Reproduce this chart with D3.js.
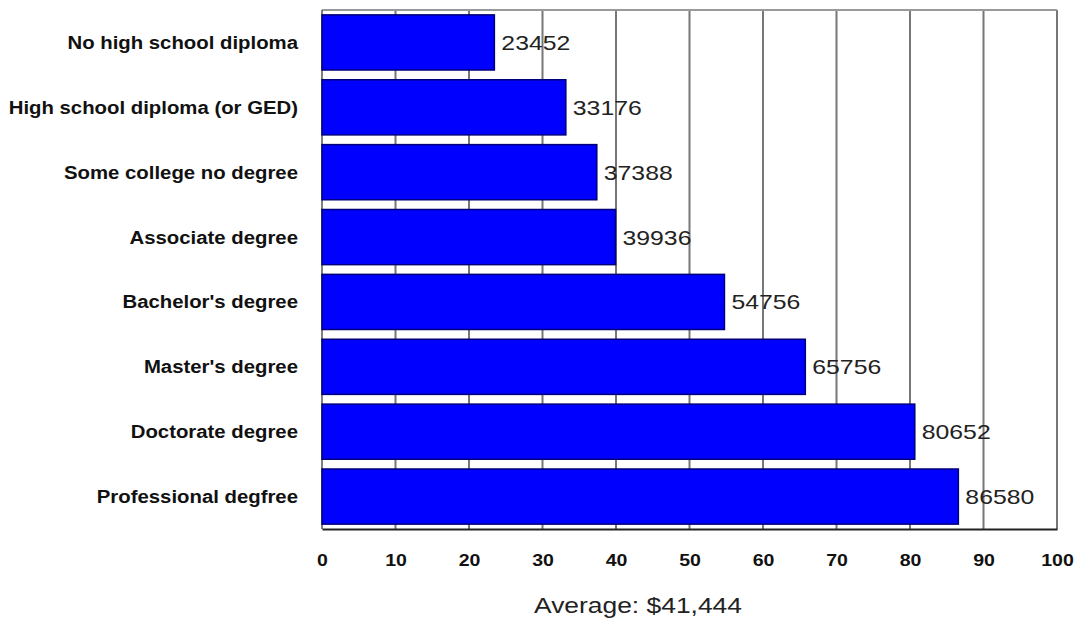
<!DOCTYPE html>
<html><head><meta charset="utf-8">
<script src="https://d3js.org/d3.v7.min.js"></script>
<style>body{margin:0;background:#fff}</style>
</head><body>
<script>
const categories = ["No high school diploma","High school diploma (or GED)","Some college no degree","Associate degree","Bachelor's degree","Master's degree","Doctorate degree","Professional degfree"];
const values = [23452,33176,37388,39936,54756,65756,80652,86580];
const xTicks = [0,10,20,30,40,50,60,70,80,90,100];
const title = "Average: $41,444";

const W=1080,H=621;
const m={l:322,r:23,t:10,b:92};
const FONT="Liberation Sans, Arial, sans-serif";
const svg=d3.select("body").append("svg").attr("width",W).attr("height",H);
const x=d3.scaleLinear().domain([0,100]).range([m.l,W-m.r]);
const y=d3.scaleBand().domain(categories).range([m.t,H-m.b]).paddingInner(0.15).paddingOuter(0.075);

function stretch(sel,k){
  sel.each(function(){
    const L=this.getComputedTextLength();
    d3.select(this).attr("textLength",L*k).attr("lengthAdjust","spacingAndGlyphs");
  });
}

// grid
svg.append("g").selectAll("line").data(xTicks.slice(1)).join("line")
 .attr("x1",d=>x(d)).attr("x2",d=>x(d)).attr("y1",m.t).attr("y2",H-m.b)
 .attr("stroke","#777").attr("stroke-width",2);
// frame
svg.append("line").attr("x1",m.l).attr("x2",W-m.r).attr("y1",m.t).attr("y2",m.t).attr("stroke","#999").attr("stroke-width",2);
svg.append("line").attr("x1",m.l).attr("x2",m.l).attr("y1",m.t).attr("y2",H-m.b).attr("stroke","#555").attr("stroke-width",1.5);

// bars
svg.append("g").selectAll("rect").data(values).join("rect")
 .attr("x",x(0)).attr("y",(d,i)=>y(categories[i]))
 .attr("width",d=>x(d/1000)-x(0)).attr("height",y.bandwidth())
 .attr("fill","#0000ff").attr("stroke","#00007a").attr("stroke-width",1.5);

// value labels
svg.append("g").selectAll("text").data(values).join("text")
 .attr("x",d=>x(d/1000)+7).attr("y",(d,i)=>y(categories[i])+y.bandwidth()/2)
 .attr("dy","0.36em").attr("font-family",FONT)
 .attr("font-size",21).attr("fill","#222").text(d=>d)
 .call(stretch,1.18);

// category labels
svg.append("g").selectAll("text").data(categories).join("text")
 .attr("x",298).attr("y",d=>y(d)+y.bandwidth()/2)
 .attr("dy","0.36em").attr("text-anchor","end")
 .attr("font-family",FONT).attr("font-weight","bold")
 .attr("font-size",18).attr("fill","#111").text(d=>d)
 .call(stretch,1.13);

// bottom axis
const ax=svg.append("g").attr("transform",`translate(0,${H-m.b})`)
 .call(d3.axisBottom(x).tickValues(xTicks).tickSize(0).tickPadding(26));
ax.select(".domain").attr("stroke","#222").attr("stroke-width",2);
ax.selectAll("text").attr("font-family",FONT).attr("font-weight","bold").attr("font-size",16).attr("fill","#111")
 .call(stretch,1.22);

svg.append("text").attr("x",638).attr("y",613).attr("text-anchor","middle")
 .attr("font-family",FONT).attr("font-size",22).attr("fill","#222").text(title)
 .call(stretch,1.2);
</script>
</body></html>
